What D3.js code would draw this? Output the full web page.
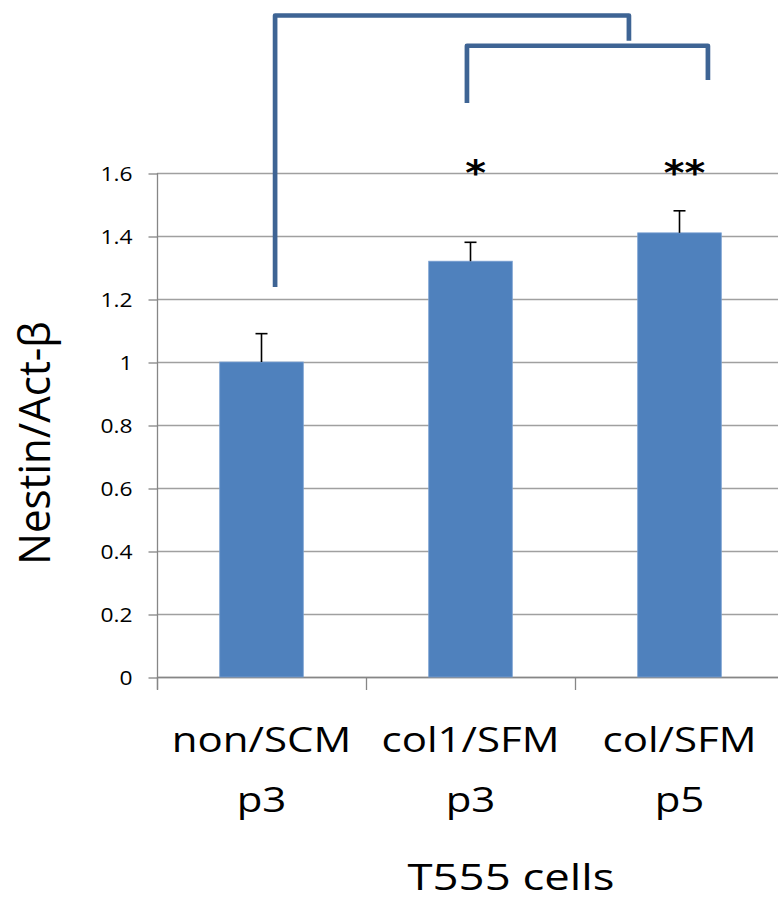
<!DOCTYPE html>
<html>
<head>
<meta charset="utf-8">
<script src="https://cdn.jsdelivr.net/npm/d3@7"></script>
<style>
  body { margin: 0; background: #fff; }
  text { font-family: "Open Sans", "Noto Sans", sans-serif; fill: #000; }
</style>
</head>
<body>
<script>
// data
let categories = [["non/SCM", "p3"], ["col1/SFM", "p3"], ["col/SFM", "p5"]];
let values = [1.0, 1.32, 1.41];
let errors = [0.09, 0.06, 0.07];
let stars = ["", "*", "**"];
let yTicks = [0, 0.2, 0.4, 0.6, 0.8, 1, 1.2, 1.4, 1.6];
// brackets: [left pos, right pos, top value, left end value, right end value] (pos in category units)
let brackets = [[0.065, 1.758, 2.10, 1.238, 2.02], [0.983, 2.136, 2.004, 1.822, 1.895]];

let width = 778,
    height = 902;
let sx = 1.2; // the picture is stretched sideways

let svg = d3.select("body")
            .append("svg")
            .attr("width", width)
            .attr("height", height);

let x = d3.scaleBand()
          .domain(d3.range(categories.length))
          .range([157, 157 + 3 * 209]);

let xPos = d3.scaleLinear()
             .domain([-0.5, categories.length - 0.5])
             .range(x.range());

let y = d3.scaleLinear()
          .domain([0, 1.6])
          .range([677, 173]);

// gridlines
svg.selectAll(".grid")
   .data(yTicks)
   .enter()
   .append("line")
   .attr("x1", 157)
   .attr("x2", width)
   .attr("y1", d => Math.round(y(d)) + 0.5)
   .attr("y2", d => Math.round(y(d)) + 0.5)
   .style("stroke", "#a0a0a0")
   .style("stroke-width", 1.3);

// y axis
let yAxis = d3.axisLeft(y)
              .tickValues(yTicks)
              .tickSize(9)
              .tickFormat(d3.format("~g"));

let gy = svg.append("g")
            .attr("transform", "translate(157.5,0.5)")
            .call(yAxis);
gy.select(".domain").attr("d", "M0," + (y(1.6) - 0.5) + "V" + (y(0) + 12)).style("stroke", "#868686").style("stroke-width", 1.3);
gy.selectAll(".tick line").style("stroke", "#868686").style("stroke-width", 1.3);
gy.selectAll(".tick text")
  .attr("x", null)
  .attr("dy", null)
  .attr("transform", "translate(-25,7) scale(1.14,1)")
  .style("font-size", "20px")
  .style("fill", "#000")
  .style("font-family", "'Open Sans', sans-serif");

// x axis baseline and ticks
svg.append("line")
   .attr("x1", 157).attr("x2", width)
   .attr("y1", y(0) + 0.5).attr("y2", y(0) + 0.5)
   .style("stroke", "#868686").style("stroke-width", 1.3);

svg.selectAll(".xtick")
   .data(d3.range(categories.length + 1))
   .enter()
   .append("line")
   .attr("x1", d => xPos(d - 0.5) + 0.5)
   .attr("x2", d => xPos(d - 0.5) + 0.5)
   .attr("y1", y(0))
   .attr("y2", y(0) + 13)
   .style("stroke", "#868686")
   .style("stroke-width", 1.3);

// bars
svg.selectAll(".bar")
   .data(values)
   .enter()
   .append("rect")
   .attr("class", "bar")
   .attr("x", (d, i) => x(i) + x.bandwidth() * 0.3)
   .attr("width", x.bandwidth() * 0.4)
   .attr("y", d => y(d))
   .attr("height", d => y(0) - y(d))
   .style("fill", "#4f81bd")
   .style("stroke", "#7aa0d2")
   .style("stroke-width", 0.8);

// error bars
let eb = svg.selectAll(".err")
            .data(values)
            .enter()
            .append("g");
eb.append("line")
  .attr("x1", (d, i) => xPos(i)).attr("x2", (d, i) => xPos(i))
  .attr("y1", d => y(d)).attr("y2", (d, i) => y(d + errors[i]))
  .style("stroke", "#000").style("stroke-width", 1.6);
eb.append("line")
  .attr("x1", (d, i) => xPos(i) - 6).attr("x2", (d, i) => xPos(i) + 6)
  .attr("y1", (d, i) => y(d + errors[i])).attr("y2", (d, i) => y(d + errors[i]))
  .style("stroke", "#000").style("stroke-width", 1.6);

// stars
svg.selectAll(".star")
   .data(stars)
   .enter()
   .append("text")
   .attr("transform", (d, i) => "translate(" + (xPos(i) + 5) + "," + (y(1.6) + 12) + ") scale(1.1,1)")
   .attr("text-anchor", "middle")
   .style("font-family", "'DejaVu Sans', sans-serif")
   .style("font-weight", "bold")
   .style("font-size", "36px")
   .text(d => d);

// brackets
svg.selectAll(".bracket")
   .data(brackets)
   .enter()
   .append("path")
   .attr("d", d => "M" + xPos(d[0]) + "," + y(d[3]) +
                   "V" + y(d[2]) +
                   "H" + xPos(d[1]) +
                   "V" + y(d[4]))
   .style("fill", "none")
   .style("stroke", "#3e6494")
   .style("stroke-width", 4.7)
   .style("stroke-linejoin", "round");

// category labels
let cl = svg.selectAll(".cat")
            .data(categories)
            .enter()
            .append("g")
            .attr("transform", (d, i) => "translate(" + xPos(i) + ",0) scale(" + sx + ",1)");
cl.append("text")
  .attr("y", 752)
  .attr("text-anchor", "middle")
  .style("font-size", "35px")
  .text(d => d[0]);
cl.append("text")
  .attr("y", 812)
  .attr("text-anchor", "middle")
  .style("font-size", "35px")
  .text(d => d[1]);

// axis titles
svg.append("text")
   .attr("transform", "translate(511,890) scale(1.23,1)")
   .attr("text-anchor", "middle")
   .style("font-size", "37px")
   .text("T555 cells");

svg.append("text")
   .attr("transform", "translate(50,443) rotate(-90) scale(1,1.06)")
   .attr("text-anchor", "middle")
   .style("font-size", "42px")
   .text("Nestin/Act-β");
</script>
</body>
</html>
